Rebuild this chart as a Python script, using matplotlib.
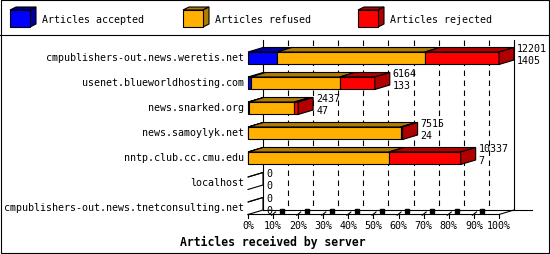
import matplotlib
matplotlib.use("Agg")
import matplotlib.pyplot as plt
from matplotlib.patches import Polygon, Rectangle

# ---------------- data ----------------
servers = [
    "cmpublishers-out.news.weretis.net",
    "usenet.blueworldhosting.com",
    "news.snarked.org",
    "news.samoylyk.net",
    "nntp.club.cc.cmu.edu",
    "localhost",
    "cmpublishers-out.news.tnetconsulting.net",
]
accepted = [1405, 133, 47, 24, 7, 0, 0]
refused = [7184, 4323, 2213, 7394, 6842, 0, 0]
rejected = [3612, 1708, 177, 97, 3488, 0, 0]
series_names = ["Articles accepted", "Articles refused", "Articles rejected"]
tick_pcts = [0, 10, 20, 30, 40, 50, 60, 70, 80, 90, 100]
tick_labels = [f"{p}%" for p in tick_pcts]
x_title = "Articles received by server"

# ---------------- style ----------------
front_colors = ["#0000ff", "#ffb000", "#ff0000"]
dark_colors = ["#0000a0", "#b07c00", "#b00000"]
FONT = "DejaVu Sans Mono"
FS = 7.2
LW = 0.8

W, Hpx = 550, 255
fig = plt.figure(figsize=(W / 100, Hpx / 100), dpi=100)
fig.patch.set_facecolor("white")

# decoration axes in pixel coordinates (frame + legend)
deco = fig.add_axes([0, 0, 1, 1], zorder=0)
deco.set_xlim(0, W)
deco.set_ylim(Hpx, 0)
deco.axis("off")
deco.add_patch(Rectangle((0.5, 0.5), W - 1.5, Hpx - 1.5, fill=False, ec="black", lw=LW))
deco.plot([0, W], [35.5, 35.5], color="black", lw=LW)

legend_x = [10, 183, 358]
for k, name in enumerate(series_names):
    x0 = legend_x[k]
    deco.add_patch(Polygon([(x0, 11), (x0 + 20, 11), (x0 + 26, 8), (x0 + 6, 8)],
                           closed=True, fc=dark_colors[k], ec="black", lw=LW))
    deco.add_patch(Polygon([(x0 + 20, 11), (x0 + 26, 8), (x0 + 26, 25), (x0 + 20, 28)],
                           closed=True, fc=dark_colors[k], ec="black", lw=LW))
    deco.add_patch(Rectangle((x0, 11), 20, 17, fc=front_colors[k], ec="black", lw=LW))
    deco.text(x0 + 32, 20, name, family=FONT, fontsize=FS, ha="left", va="center")

# main data axes: x in percent of largest total, y in rows
ax = fig.add_axes([0, 0, 1, 1], zorder=1)
ax.patch.set_visible(False)
ax.axis("off")
X0PX, SX = 248, 2.51          # pixel of 0 %, pixels per percent
ROW0PX, ROWPX = 59.25, 25.0   # pixel of first row centre, row spacing
ax.set_xlim(-X0PX / SX, (W - X0PX) / SX)
ax.set_ylim((Hpx - ROW0PX) / ROWPX, -ROW0PX / ROWPX)

DX = 15 / SX       # depth offset (x)
DY = 4.5 / ROWPX   # depth offset (y)
HH = 0.25          # half bar height
n = len(servers)
floor_front = (n - 1) + HH
floor_back = floor_front - DY
wall_top = (41 - ROW0PX) / ROWPX

totals = [a + b + c for a, b, c in zip(accepted, refused, rejected)]
scale = 100.0 / max(totals)

# back wall, grid and floor
ax.plot([DX, DX], [wall_top, floor_back], color="black", lw=LW, zorder=1)
ax.plot([100 + DX, 100 + DX], [wall_top, floor_back], color="black", lw=LW, zorder=1)
for p in tick_pcts[1:-1]:
    ax.plot([p + DX, p + DX], [wall_top, floor_back], color="black", lw=LW,
            linestyle=(0, (5, 4)), zorder=1)
ax.plot([DX, (532 - X0PX) / SX], [floor_back, floor_back], color="black", lw=LW, zorder=1)
ax.plot([0, 100, 100 + DX], [floor_front, floor_front, floor_back], color="black", lw=LW, zorder=1)
for p, lab in zip(tick_pcts, tick_labels):
    ax.plot([p, p], [floor_front, floor_front + 0.16], color="black", lw=LW, zorder=1)
    ax.text(p, floor_front + 0.43, lab, family=FONT, fontsize=FS, ha="center", va="center")
for p in tick_pcts[1:-1]:
    ax.plot([p - 0.6, p + 1.0], [floor_front + 0.03, floor_front - 0.1], color="black", lw=LW, zorder=1)
    ax.plot([p + 3.4], [floor_front - 0.13], marker="s", ms=2.2, color="black", zorder=1)
ax.text(10, 7.31, x_title, family=FONT, fontsize=8.3, fontweight="bold", ha="center", va="center")

# bars
for r, name in enumerate(servers):
    vals = [accepted[r], refused[r], rejected[r]]
    segs = []
    cum = 0.0
    for k, v in enumerate(vals):
        if v > 0:
            segs.append((cum * scale, (cum + v) * scale, k))
        cum += v
    empty = not segs
    if empty:
        segs = [(0.0, 0.0, 2)]
    top, bot = r - HH, r + HH
    for x0, x1, k in segs:
        ax.add_patch(Polygon([(x0, top), (x1, top), (x1 + DX, top - DY), (x0 + DX, top - DY)],
                             closed=True, fc=dark_colors[k], ec="black", lw=LW, zorder=3))
        if not empty:
            ax.add_patch(Rectangle((x0, top), x1 - x0, bot - top, fc=front_colors[k],
                                   ec="black", lw=LW, zorder=3))
    xe = segs[-1][1]
    ke = segs[-1][2]
    side = [(xe, top), (xe + DX, top - DY), (xe + DX, bot - DY), (xe, bot)]
    if empty:
        ax.plot([s[0] for s in side], [s[1] for s in side], color="black", lw=LW, zorder=3)
    else:
        ax.add_patch(Polygon(side, closed=True, fc=dark_colors[ke], ec="black", lw=LW, zorder=3))
    ax.text(-1.6, r - 0.05, name, family=FONT, fontsize=FS, ha="right", va="center")
    lx = xe + DX + 3 / SX
    ax.text(lx, top - 0.16, str(totals[r]), family=FONT, fontsize=FS, ha="left", va="center")
    ax.text(lx, top + 0.32, str(accepted[r]), family=FONT, fontsize=FS, ha="left", va="center")

fig.savefig("out.png", dpi=100)
